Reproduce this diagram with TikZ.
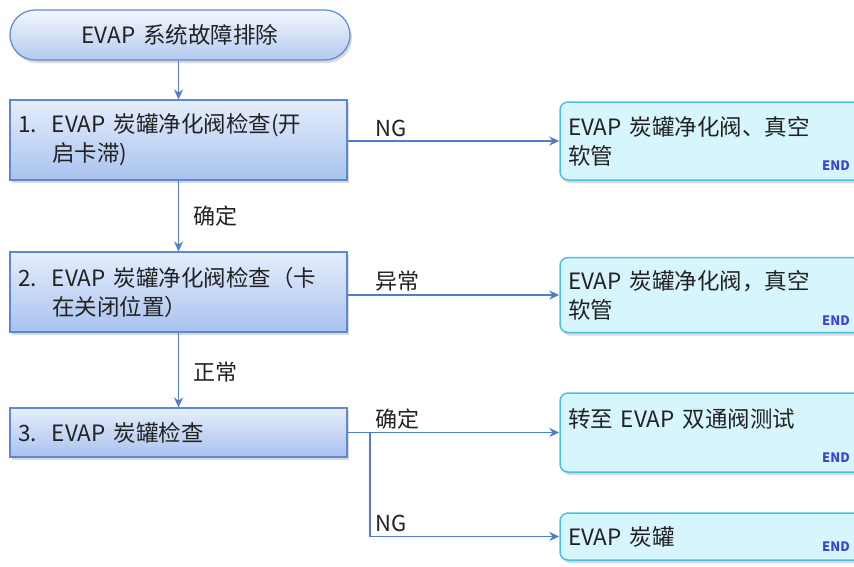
\documentclass[tikz,border=0pt]{standalone}
\usepackage{fontspec}
\setmainfont{Noto Sans CJK SC}
\usetikzlibrary{arrows.meta,shadows}
\definecolor{mainTop}{HTML}{E6EEFC}
\definecolor{mainBot}{HTML}{A8C2EE}
\definecolor{mainBorder}{HTML}{5F88D2}
\definecolor{startTop}{HTML}{F4F7FD}
\definecolor{startBot}{HTML}{B3CAEF}
\definecolor{endFill}{HTML}{D7F5FC}
\definecolor{endBorder}{HTML}{4CC0E3}
\definecolor{lineC}{HTML}{4F7EC6}
\definecolor{endTxt}{HTML}{3D43D4}
\definecolor{txt}{HTML}{222222}
\newcommand\gp{\hspace{0.35em}}
\tikzset{
  startbox/.style={draw=mainBorder, line width=1.2pt, top color=startTop, bottom color=startBot,
    rounded corners=25pt, minimum width=340pt, minimum height=50pt, inner sep=0pt,
    text=txt, font=\fontsize{22.5}{29}\selectfont,
    drop shadow={opacity=0.3, shadow xshift=2pt, shadow yshift=-3pt}},
  mainbox/.style={draw=mainBorder, line width=1.2pt, top color=mainTop, bottom color=mainBot,
    minimum width=337pt, inner xsep=8pt, inner ysep=0pt, text width=321pt, align=left,
    text=txt, font=\fontsize{22.5}{29}\selectfont,
    drop shadow={opacity=0.3, shadow xshift=2pt, shadow yshift=-3pt}},
  endbox/.style={draw=endBorder, line width=1.5pt, fill=endFill, rounded corners=8pt,
    minimum width=320pt, inner xsep=8pt, inner ysep=0pt, text width=304pt, align=left,
    text=txt, font=\fontsize{22.5}{29}\selectfont,
    drop shadow={opacity=0.3, shadow xshift=2pt, shadow yshift=-3pt}},
  endtag/.style={text=endTxt, font=\fontsize{13}{14}\selectfont\bfseries, anchor=east, inner sep=0pt},
  lbl/.style={text=txt, font=\fontsize{22}{26}\selectfont, anchor=west, inner sep=0pt},
  conn/.style={draw=lineC, line width=1.6pt, -{Stealth[length=10pt,width=9pt]}},
}
\begin{document}
\begin{tikzpicture}[x=1pt,y=-1pt]
\useasboundingbox (0,0) rectangle (854,566);
\node[startbox] (start) at (180,35) {EVAP\gp 系统故障排除};
\node[mainbox, minimum height=80pt] (box1) at (178.5,140)
  {\makebox[34pt][l]{1.}EVAP\gp 炭罐净化阀检查(开\\\hspace*{34pt}启卡滞)};
\node[mainbox, minimum height=80pt] (box2) at (178.5,292)
  {\makebox[34pt][l]{2.}EVAP\gp 炭罐净化阀检查（卡\\\hspace*{34pt}在关闭位置）};
\node[mainbox, minimum height=49pt] (box3) at (178.5,432.5)
  {\makebox[34pt][l]{3.}EVAP\gp 炭罐检查};
\node[endbox, minimum height=78pt] (end1) at (720,141)
  {EVAP\gp 炭罐净化阀、真空\\软管};
\node[endbox, minimum height=75pt] (end2) at (720,295)
  {EVAP\gp 炭罐净化阀，真空\\软管};
\node[endbox, minimum height=79pt] (end3) at (720,432.5)
  {转至\gp EVAP\gp 双通阀测试\\\mbox{}};
\node[endbox, minimum height=47pt] (end4) at (720,536.5)
  {EVAP\gp 炭罐};
\node[endtag] (tag1) at (850,166) {END};
\node[endtag] (tag2) at (850,321) {END};
\node[endtag] (tag3) at (850,458) {END};
\node[endtag] (tag4) at (850,547) {END};
% connectors
\draw[conn] (start.south -| box1.north) -- (box1.north);
\draw[conn] (box1.south) -- (box2.north);
\draw[conn] (box2.south) -- (box3.north);
\draw[conn] (box1.east |- end1.west) -- (end1.west);
\draw[conn] (box2.east |- end2.west) -- (end2.west);
\coordinate (split) at (370,432.5);
\draw[conn] (box3.east) -- (end3.west);
\draw[conn] (split) |- (end4.west);
% labels
\node[lbl] (lng1) at (375,128) {NG};
\node[lbl] (lok1) at (193,216) {确定};
\node[lbl] (lab2) at (375,281) {异常};
\node[lbl] (lok2) at (193,372) {正常};
\node[lbl] (lok3) at (375,419) {确定};
\node[lbl] (lng3) at (375,523) {NG};
\end{tikzpicture}
\end{document}
